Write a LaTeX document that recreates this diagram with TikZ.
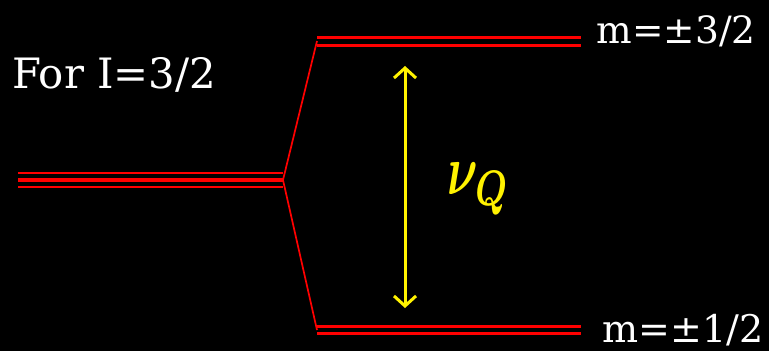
\documentclass[tikz,border=0pt]{standalone}
\usepackage{fontspec}
\setmainfont{DejaVu Serif}
\usetikzlibrary{arrows.meta}
\begin{document}
\begin{tikzpicture}[x=1pt,y=-1pt,
  level/.style={draw=red,line width=3pt},
  thinlevel/.style={draw=red,line width=2pt},
  midlevel/.style={draw=red,line width=4.5pt},
  split/.style={draw=red,line width=1.7pt},
  lbl/.style={text=white,inner sep=0pt},
  trans/.style={draw=yellow,line width=3pt,{Straight Barb[length=10pt,width=22pt,line width=3pt]}-{Straight Barb[length=10pt,width=22pt,line width=3pt]}}]
\fill[black] (0,0) rectangle (769,351);
\useasboundingbox (0,0) rectangle (769,351);
% left degenerate level
\coordinate (L1a) at (18,173); \coordinate (L1b) at (283,173);
\coordinate (L2a) at (18,180); \coordinate (L2b) at (283,180);
\coordinate (L3a) at (18,186.5); \coordinate (L3b) at (283,186.5);
\draw[thinlevel] (L1a) -- (L1b);
\draw[midlevel] (L2a) -- (L2b);
\draw[thinlevel] (L3a) -- (L3b);
% upper level
\coordinate (U1a) at (317,37.5); \coordinate (U1b) at (581,37.5);
\coordinate (U2a) at (317,45); \coordinate (U2b) at (581,45);
\draw[level] (U1a) -- (U1b);
\draw[level] (U2a) -- (U2b);
% lower level
\coordinate (D1a) at (317,326); \coordinate (D1b) at (581,326);
\coordinate (D2a) at (317,333.5); \coordinate (D2b) at (581,333.5);
\draw[level] (D1a) -- (D1b);
\draw[level] (D2a) -- (D2b);
% splitting lines
\coordinate (S) at (283,180);
\coordinate (SU) at (317,41);
\coordinate (SD) at (317,330);
\draw[split] (S) -- (SU);
\draw[split] (S) -- (SD);
% transition arrow
\coordinate (AT) at (405,66);
\coordinate (AB) at (405,308);
\draw[trans] (AT) -- (AB);
\node[text=yellow,inner sep=0pt] (nu) at (479,189) {\resizebox*{62pt}{52pt}{\boldmath$\nu_Q$}};
% labels
\node[lbl,anchor=base west] (for) at (12,88) {\resizebox{204pt}{!}{For I=3/2}};
\node[lbl,anchor=base east] (m32) at (756,43) {\resizebox{159pt}{!}{m=±3/2}};
\node[lbl,anchor=base east] (m12) at (764,342) {\resizebox{161pt}{!}{m=±1/2}};
\end{tikzpicture}
\end{document}
